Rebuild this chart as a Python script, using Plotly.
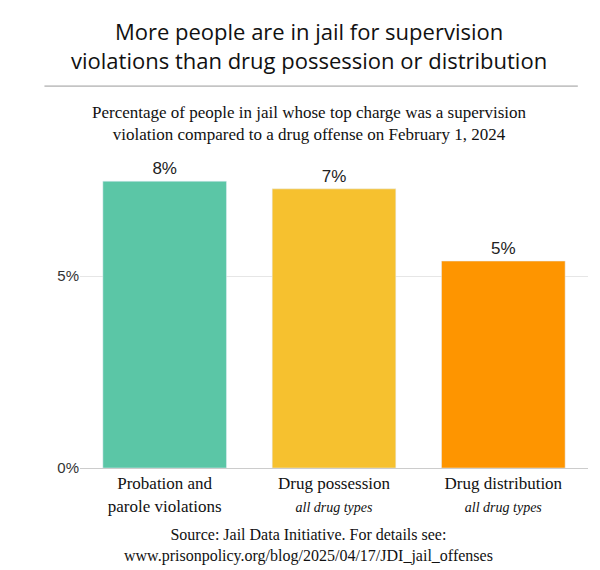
import plotly.graph_objects as go

categories = ["Probation and<br>parole violations",
              "Drug possession<br><i><span style='font-size:14px'>all drug types</span></i>",
              "Drug distribution<br><i><span style='font-size:14px'>all drug types</span></i>"]
values = [7.47, 7.27, 5.39]
labels = ["8%", "7%", "5%"]
colors = ["#5bc6a6", "#f6c12f", "#fe9500"]

fig = go.Figure(go.Bar(
    x=categories, y=values, marker_color=colors, width=0.73,
    text=labels, textposition="outside", cliponaxis=False,
    textfont=dict(family="Liberation Sans, Arial", size=17, color="#222"),
))

fig.update_layout(
    width=600, height=570, paper_bgcolor="white", plot_bgcolor="white",
    margin=dict(l=72, r=20, t=149, b=110),
    showlegend=False,
    xaxis=dict(tickfont=dict(family="Liberation Serif, Times New Roman", size=17, color="#111"),
               showline=True, linecolor="#ccc", ticks=""),
    yaxis=dict(range=[0, 8.1], tickvals=[0, 5], ticktext=["0%", "5%"],
               gridcolor="#e6e6e6", zeroline=False,
               tickfont=dict(family="Liberation Sans, Arial", size=15, color="#333")),
    shapes=[dict(type="line", xref="paper", yref="paper", x0=-0.07, x1=0.98,
                 y0=1.228, y1=1.228, line=dict(color="#999", width=1))],
    annotations=[
        dict(text="More people are in jail for supervision<br>violations than drug possession or distribution",
             x=0.45, y=1.36, xref="paper", yref="paper", showarrow=False, yanchor="middle",
             font=dict(family="Open Sans, Liberation Sans", size=22, color="#111")),
        dict(text="Percentage of people in jail whose top charge was a supervision<br>violation compared to a drug offense on February 1, 2024",
             x=0.45, y=1.109, xref="paper", yref="paper", showarrow=False, yanchor="middle",
             font=dict(family="Liberation Serif, Times New Roman", size=17, color="#111")),
        dict(text="Source: Jail Data Initiative. For details see:<br>www.prisonpolicy.org/blog/2025/04/17/JDI_jail_offenses",
             x=0.45, y=-0.248, xref="paper", yref="paper", showarrow=False, yanchor="middle",
             font=dict(family="Liberation Serif, Times New Roman", size=16, color="#111")),
    ],
)

fig.write_html("out.html")
